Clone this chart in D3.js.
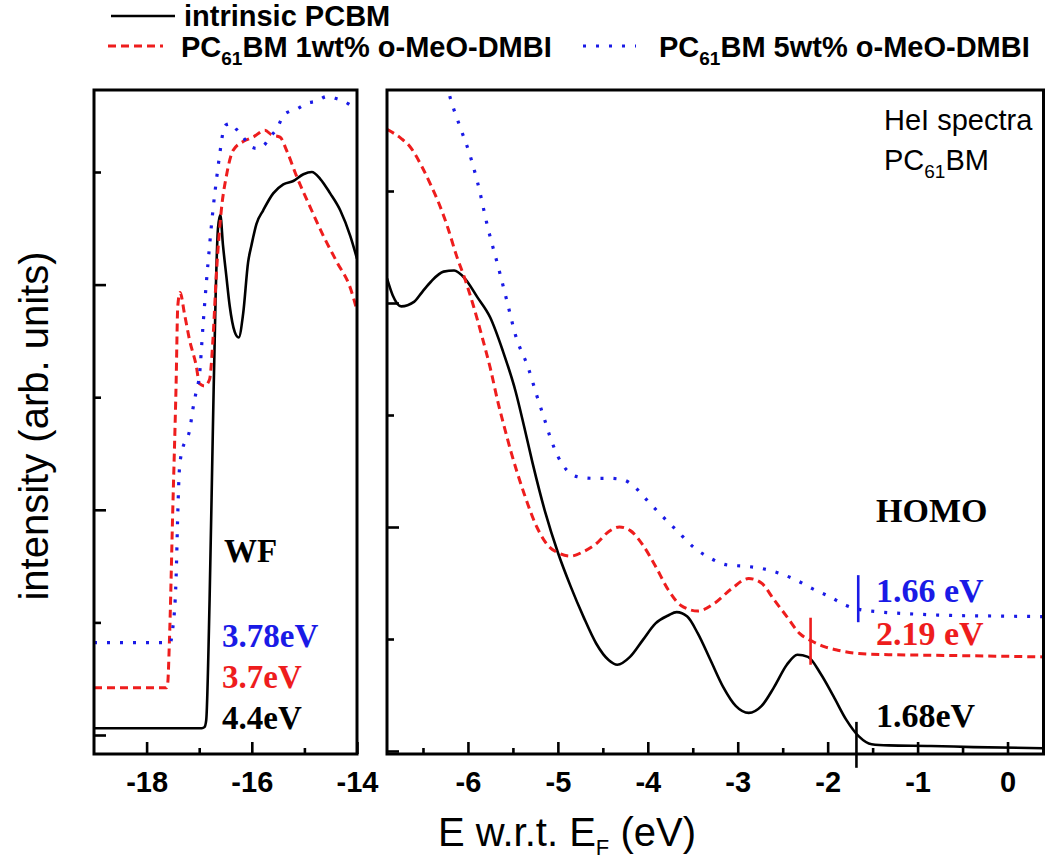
<!DOCTYPE html>
<html>
<head>
<meta charset="utf-8">
<script src="https://cdn.jsdelivr.net/npm/d3@7"></script>
<style>
  html, body { margin: 0; padding: 0; background: #fff; }
  svg { display: block; }
</style>
</head>
<body>
<svg id="chart" width="1045" height="859"></svg>
<script>
// ---------- Secondary-electron cutoff region (work function), [E (eV), intensity] ----------
const wfIntrinsic = [
  [-19.00,0.06],[-18.00,0.06],[-16.95,0.06],[-16.90,0.07],[-16.867,0.13],[-16.802,1.21],
  [-16.739,2.74],[-16.688,3.89],[-16.643,4.50],[-16.599,4.62],[-16.548,4.35],[-16.485,4.08],
  [-16.420,3.81],[-16.325,3.58],[-16.249,3.53],[-16.165,3.74],[-16.070,4.20],[-16.006,4.35],
  [-15.911,4.54],[-15.783,4.66],[-15.593,4.81],[-15.401,4.89],[-15.211,4.92],[-15.019,4.98],
  [-14.859,5.00],[-14.701,4.94],[-14.510,4.81],[-14.319,4.66],[-14.127,4.43],[-14.000,4.23]
];
const wf1wt = [
  [-19.00,0.42],[-18.00,0.42],[-17.62,0.42],[-17.60,0.45],[-17.567,0.82],[-17.504,1.97],
  [-17.439,3.12],[-17.407,3.81],[-17.363,3.93],[-17.280,3.74],[-17.184,3.51],[-17.057,3.28],
  [-16.994,3.12],[-16.897,3.10],[-16.802,3.16],[-16.739,3.51],[-16.675,4.08],[-16.580,4.66],
  [-16.485,4.96],[-16.357,5.19],[-16.165,5.27],[-15.975,5.31],[-15.751,5.37],[-15.624,5.33],
  [-15.464,5.31],[-15.337,5.19],[-15.146,4.96],[-14.892,4.69],[-14.637,4.43],[-14.382,4.20],
  [-14.127,3.97],[-14.000,3.77]
];
const wf5wt = [
  [-19.00,0.82],[-18.00,0.82],[-17.55,0.82],[-17.534,0.84],[-17.504,0.94],[-17.439,1.40],
  [-17.407,1.97],[-17.376,2.36],[-17.312,2.55],[-17.249,2.62],[-17.184,2.70],[-17.122,2.89],
  [-17.057,3.05],[-16.994,3.20],[-16.930,3.62],[-16.867,4.00],[-16.802,4.35],[-16.739,4.66],
  [-16.675,4.92],[-16.612,5.15],[-16.548,5.35],[-16.485,5.42],[-16.388,5.43],[-16.293,5.38],
  [-16.165,5.31],[-16.038,5.23],[-15.911,5.21],[-15.783,5.23],[-15.656,5.31],[-15.529,5.38],
  [-15.401,5.50],[-15.274,5.54],[-15.146,5.56],[-14.956,5.61],[-14.764,5.63],[-14.574,5.67],
  [-14.382,5.65],[-14.255,5.63],[-14.065,5.58],[-14.000,5.57]
];

// ---------- Valence region (HOMO), [E (eV), intensity] ----------
const homoIntrinsic = [
  [-6.90,4.22],[-6.837,4.07],[-6.742,3.97],[-6.600,4.01],[-6.507,4.10],[-6.412,4.19],
  [-6.271,4.28],[-6.153,4.29],[-6.036,4.22],[-5.894,4.05],[-5.752,3.87],[-5.611,3.57],
  [-5.470,3.21],[-5.376,2.90],[-5.281,2.57],[-5.140,2.13],[-4.999,1.77],[-4.858,1.47],
  [-4.716,1.20],[-4.574,0.96],[-4.433,0.81],[-4.339,0.77],[-4.198,0.84],[-4.056,0.99],
  [-3.914,1.14],[-3.773,1.21],[-3.679,1.24],[-3.561,1.20],[-3.444,1.05],[-3.302,0.81],
  [-3.161,0.57],[-3.020,0.40],[-2.878,0.34],[-2.737,0.40],[-2.596,0.57],[-2.454,0.77],
  [-2.337,0.86],[-2.219,0.84],[-2.078,0.69],[-1.936,0.49],[-1.794,0.28],[-1.653,0.13],
  [-1.511,0.06],[-1.322,0.05],[-0.852,0.045],[-0.381,0.035],[0.40,0.025]
];
const homo1wt = [
  [-6.90,5.55],[-6.744,5.47],[-6.648,5.40],[-6.507,5.21],[-6.411,5.05],[-6.318,4.88],
  [-6.223,4.67],[-6.130,4.43],[-6.036,4.22],[-5.941,3.98],[-5.847,3.71],[-5.752,3.42],
  [-5.659,3.09],[-5.611,2.94],[-5.517,2.66],[-5.376,2.30],[-5.234,2.00],[-5.093,1.82],
  [-4.999,1.77],[-4.858,1.74],[-4.716,1.78],[-4.574,1.85],[-4.433,1.96],[-4.316,2.00],
  [-4.198,1.97],[-4.056,1.84],[-3.914,1.65],[-3.773,1.44],[-3.632,1.30],[-3.444,1.25],
  [-3.256,1.32],[-3.067,1.45],[-2.878,1.54],[-2.737,1.50],[-2.596,1.35],[-2.454,1.20],
  [-2.313,1.05],[-2.171,0.98],[-2.030,0.93],[-1.889,0.90],[-1.653,0.87],[-1.322,0.86],
  [-0.852,0.855],[-0.381,0.85],[0.40,0.84]
];
const homo5wt = [
  [-6.24,5.96],[-6.20,5.84],[-6.082,5.56],[-5.989,5.35],[-5.894,5.08],[-5.778,4.67],
  [-5.659,4.31],[-5.564,4.01],[-5.470,3.71],[-5.329,3.42],[-5.233,3.17],[-5.140,2.94],
  [-5.093,2.82],[-4.999,2.63],[-4.904,2.51],[-4.787,2.45],[-4.622,2.435],[-4.433,2.435],
  [-4.268,2.42],[-4.150,2.36],[-4.009,2.24],[-3.867,2.12],[-3.679,1.97],[-3.491,1.82],
  [-3.302,1.72],[-3.113,1.66],[-2.926,1.65],[-2.737,1.63],[-2.549,1.59],[-2.360,1.53],
  [-2.171,1.45],[-1.983,1.38],[-1.794,1.30],[-1.653,1.265],[-1.464,1.245],[-1.089,1.225],
  [-0.617,1.21],[-0.146,1.205],[0.40,1.20]
];

// HOMO onsets (eV) and the intensity span of each onset marker: intrinsic, 1wt%, 5wt%
const onsetEnergies = [-1.68, -2.19, -1.66];
const onsetSpans = [[-0.15, 0.26], [0.77, 1.19], [1.15, 1.57]];
const onsetLabels = ["1.68eV", "2.19 eV", "1.66 eV"];
// Work functions: intrinsic, 1wt%, 5wt%
const wfLabels = ["4.4eV", "3.7eV", "3.78eV"];

// Tick values
const xMajorLeft = [-18, -16, -14];
const xMinorLeft = [-17, -15];
const xMajorRight = [-6, -5, -4, -3, -2, -1, 0];
const xMinorRight = [-6.5, -5.5, -4.5, -3.5, -2.5, -1.5, -0.5];
const yMajor = [0, 2, 4];
const yMinor = [1, 3, 5];

const legendNames = ["intrinsic PCBM", "1wt% o-MeO-DMBI", "5wt% o-MeO-DMBI"];

// ---------- Drawing ----------
const svg = d3.select("#chart");
const BLACK = "#000000", RED = "#ee1d1d", BLUE = "#1a1ae6";
const SANS = "'Liberation Sans', Arial, Helvetica, sans-serif";
const SERIF = "'Liberation Serif', 'Times New Roman', serif";

svg.append("rect").attr("width", 1045).attr("height", 859).attr("fill", "#fff");

const plotTop = 90, plotBottom = 754;
const xL = d3.scaleLinear().domain([-19, -14]).range([94, 357]);
const yL = d3.scaleLinear().domain([0, 5]).range([735, 172]);
const xR = d3.scaleLinear().domain([-6.9, 0.4]).range([387, 1043.5]);
const yR = d3.scaleLinear().domain([0, 5]).range([751, 191]);

const styles = [
  { color: BLACK, width: 2.6, dash: null },
  { color: RED, width: 3, dash: "8,5" },
  { color: BLUE, width: 3.2, dash: "3,10" }
];

function drawPanel(id, x, y, seriesList, majorX, minorX) {
  const x0 = x.range()[0], x1 = x.range()[1];
  svg.append("clipPath").attr("id", id)
    .append("rect").attr("x", x0).attr("y", plotTop).attr("width", x1 - x0).attr("height", plotBottom - plotTop);

  const g = svg.append("g").attr("clip-path", `url(#${id})`);
  const line = d3.line().x(d => x(d[0])).y(d => y(d[1])).curve(d3.curveMonotoneX);
  seriesList.forEach((s, i) => {
    g.append("path").datum(s)
      .attr("d", line)
      .attr("fill", "none")
      .attr("stroke", styles[i].color)
      .attr("stroke-width", styles[i].width)
      .attr("stroke-dasharray", styles[i].dash)
      .attr("stroke-linejoin", "round");
  });

  // bottom axis: minor and major ticks pointing inward
  svg.append("g").attr("transform", `translate(0,${plotBottom})`)
    .call(d3.axisBottom(x).tickValues(minorX).tickSize(-6).tickFormat(""))
    .call(a => a.select(".domain").remove());
  const gx = svg.append("g").attr("transform", `translate(0,${plotBottom})`)
    .call(d3.axisBottom(x).tickValues(majorX).tickSizeInner(-12).tickSizeOuter(0)
      .tickPadding(17).tickFormat(d => String(d)))
    .call(a => a.select(".domain").remove());
  gx.selectAll("text").attr("font-family", SANS).attr("font-weight", "bold")
    .attr("font-size", 29).attr("fill", BLACK);

  // left axis ticks, no labels
  svg.append("g").attr("transform", `translate(${x0},0)`)
    .call(d3.axisLeft(y).tickValues(yMajor).tickSize(-12).tickFormat(""))
    .call(a => a.select(".domain").remove());
  svg.append("g").attr("transform", `translate(${x0},0)`)
    .call(d3.axisLeft(y).tickValues(yMinor).tickSize(-7).tickFormat(""))
    .call(a => a.select(".domain").remove());

  svg.selectAll(".tick line").attr("stroke", BLACK).attr("stroke-width", 2.6);

  svg.append("rect").attr("x", x0).attr("y", plotTop).attr("width", x1 - x0).attr("height", plotBottom - plotTop)
    .attr("fill", "none").attr("stroke", BLACK).attr("stroke-width", 3);
}

drawPanel("clipL", xL, yL, [wfIntrinsic, wf1wt, wf5wt], xMajorLeft, xMinorLeft);
drawPanel("clipR", xR, yR, [homoIntrinsic, homo1wt, homo5wt], xMajorRight, xMinorRight);

// HOMO onset markers
onsetEnergies.forEach((e, i) => {
  svg.append("line")
    .attr("x1", xR(e)).attr("x2", xR(e))
    .attr("y1", yR(onsetSpans[i][0])).attr("y2", yR(onsetSpans[i][1]))
    .attr("stroke", styles[i].color).attr("stroke-width", 2.6);
});

// Panel annotations
const serifText = (txt, xx, yy, color, size) =>
  svg.append("text").attr("x", xx).attr("y", yy).attr("font-family", SERIF)
    .attr("font-weight", "bold").attr("font-size", size).attr("fill", color).text(txt);

serifText("WF", 224, 562, BLACK, 33);
serifText(wfLabels[2], 222, 647, BLUE, 33);
serifText(wfLabels[1], 222, 688, RED, 33);
serifText(wfLabels[0], 222, 729, BLACK, 33);

serifText("HOMO", 876, 522, BLACK, 34);
serifText(onsetLabels[2], 876, 602, BLUE, 34);
serifText(onsetLabels[1], 876, 645, RED, 34);
serifText(onsetLabels[0], 876, 727, BLACK, 34);

svg.append("text").attr("x", 884).attr("y", 130).attr("font-family", SANS)
  .attr("font-size", 29).attr("fill", BLACK).text("HeI spectra");
const pc = svg.append("text").attr("x", 884).attr("y", 170).attr("font-family", SANS)
  .attr("font-size", 29).attr("fill", BLACK);
pc.append("tspan").text("PC");
pc.append("tspan").attr("dy", 8).attr("font-size", 19).text("61");
pc.append("tspan").attr("dy", -8).text("BM");

// Legend
const legendItems = [
  { x1: 111, x2: 175, y: 16, tx: 184, ty: 26, sub: false, name: legendNames[0] },
  { x1: 108, x2: 163, y: 46, tx: 181, ty: 57, sub: true, name: legendNames[1] },
  { x1: 583, x2: 636, y: 46, tx: 659, ty: 57, sub: true, name: legendNames[2] }
];
legendItems.forEach((it, i) => {
  svg.append("line").attr("x1", it.x1).attr("x2", it.x2).attr("y1", it.y).attr("y2", it.y)
    .attr("stroke", styles[i].color).attr("stroke-width", styles[i].width)
    .attr("stroke-dasharray", styles[i].dash);
  const t = svg.append("text").attr("x", it.tx).attr("y", it.ty).attr("font-family", SANS)
    .attr("font-weight", "bold").attr("font-size", 29).attr("fill", BLACK);
  if (it.sub) {
    t.append("tspan").text("PC");
    t.append("tspan").attr("dy", 8).attr("font-size", 19).text("61");
    t.append("tspan").attr("dy", -8).text("BM " + it.name);
  } else {
    t.text(it.name);
  }
});

// Axis titles
svg.append("text").attr("transform", "translate(48,426) rotate(-90)")
  .attr("text-anchor", "middle").attr("font-family", SANS).attr("font-size", 40)
  .attr("fill", BLACK).text("intensity (arb. units)");
const xt = svg.append("text").attr("x", 438).attr("y", 846).attr("font-family", SANS)
  .attr("font-size", 40).attr("fill", BLACK);
xt.append("tspan").text("E w.r.t. E");
xt.append("tspan").attr("dy", 9).attr("font-size", 22).text("F");
xt.append("tspan").attr("dy", -9).text(" (eV)");
</script>
</body>
</html>
